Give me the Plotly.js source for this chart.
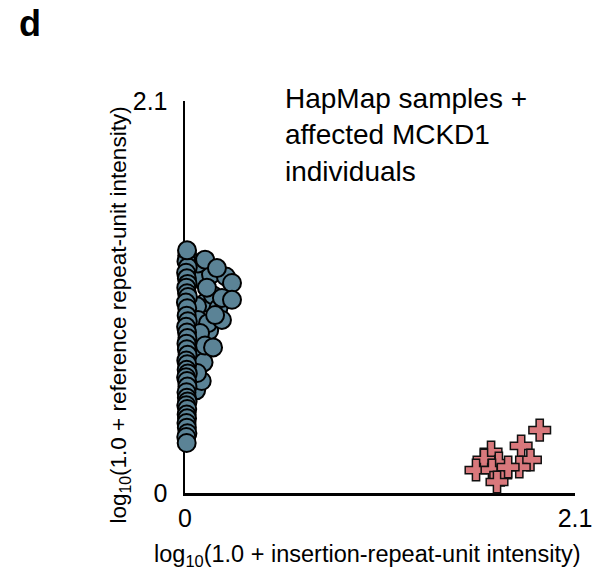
<!DOCTYPE html>
<html><head><meta charset="utf-8">
<script src="https://cdn.plot.ly/plotly-3.0.1.min.js"></script>
<style>body{margin:0;background:#fff}#chart{width:613px;height:573px}</style>
</head><body><div id="chart"></div>
<script>
// HapMap samples (blue circles): off-column points, then the column near x=0
const hapmapX = [0.09,0.14,0.22,0.11,0.15,0.18,0.13,0.05,0.06,0.04,0.10,0.09,
  0.070,0.108,0.172,0.253,0.118,0.199,0.253,0.065,0.070,0.124,0.199,0.162,0.081,0.108,0.151,0.065,
  0.012,0.008,0.015,0.006,0.010,0.014,0.007,0.011,0.016,0.005,0.012,0.009,0.015,0.006,0.011,0.013,0.008,0.010,0.014,0.007,0.012,0.009,0.015,0.006,0.011,0.013,0.008,0.010,0.014,0.007,0.012,0.009,0.011,0.008,0.010,0.013,0.007,0.009,0.011];
const hapmapY = [1.15,1.17,1.16,1.02,1.06,0.99,0.87,0.72,0.55,0.83,0.70,0.60,
  1.230,1.250,1.205,1.125,1.100,1.045,1.035,1.000,0.927,0.910,0.927,0.953,0.857,0.790,0.780,0.643,
  1.27,1.24,1.21,1.18,1.15,1.12,1.10,1.07,1.05,1.02,0.99,0.95,0.92,0.89,0.86,0.83,0.80,0.77,0.74,0.71,0.69,0.66,0.64,0.62,0.60,0.57,0.54,0.51,0.49,0.47,0.45,0.42,0.40,0.375,0.35,0.32,0.30,0.268,1.30];
// Affected MCKD1 individuals (red crosses)
const mckdX = [1.91,1.81,1.86,1.80,1.648,1.61,1.69,1.567,1.653,1.70,1.68,1.74];
const mckdY = [0.337,0.252,0.177,0.139,0.22,0.177,0.16,0.123,0.123,0.096,0.059,0.139];
const tickVals = [0, 2.1];
const tickText = ['0', '2.1'];

const fontFam = 'Liberation Sans, Arial, Helvetica, sans-serif';
const data = [
  {type:'scatter', mode:'markers', x:hapmapX, y:hapmapY, cliponaxis:false, name:'HapMap',
   marker:{symbol:'circle', size:18, color:'#5b8396', line:{color:'#000', width:2}}},
  {type:'scatter', mode:'markers', x:mckdX, y:mckdY, cliponaxis:false, name:'MCKD1',
   marker:{symbol:'cross', size:18, color:'#d9787c', line:{color:'#111', width:1.5}}}
];
const layout = {
  width:613, height:573, showlegend:false,
  paper_bgcolor:'#fff', plot_bgcolor:'#fff',
  margin:{l:185, r:38, t:101, b:80},
  font:{family:fontFam, color:'#000'},
  xaxis:{range:[0,2.1], showgrid:false, zeroline:false, showline:true, linecolor:'#000', linewidth:2.5,
    tickvals:tickVals, ticktext:tickText, ticks:'', tickfont:{size:25}, layer:'below traces', ticklabelstandoff:1},
  yaxis:{range:[0,2.1], showgrid:false, zeroline:false, showline:true, linecolor:'#000', linewidth:2.5,
    tickvals:tickVals, ticktext:tickText, ticks:'', tickfont:{size:25}, layer:'below traces', ticklabelstandoff:10},
  annotations:[
    {text:'<b>d</b>', xref:'paper', yref:'paper', x:-0.43, y:1.255, xanchor:'left', yanchor:'top', showarrow:false, font:{size:36}},
    {text:'HapMap samples +<br>affected MCKD1<br>individuals', xref:'paper', yref:'paper', x:0.252, y:1.05, xanchor:'left', yanchor:'top', align:'left', showarrow:false, font:{size:28}},
    {text:'log<sub>10</sub>(1.0 + reference repeat-unit intensity)', xref:'paper', yref:'paper', x:-0.167, y:0.455, xanchor:'center', yanchor:'middle', textangle:-90, showarrow:false, font:{size:22.5}},
    {text:'log<sub>10</sub>(1.0 + insertion-repeat-unit intensity)', xref:'paper', yref:'paper', x:0.468, y:-0.16, xanchor:'center', yanchor:'middle', showarrow:false, font:{size:23.5}}
  ]
};
Plotly.newPlot('chart', data, layout, {displayModeBar:false, staticPlot:true});
</script></body></html>
